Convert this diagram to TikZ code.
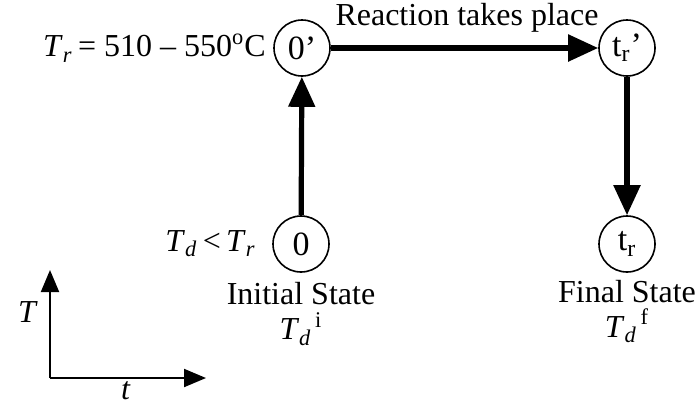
\documentclass[tikz,border=0pt]{standalone}
\usepackage{fontspec}
\setmainfont{Liberation Serif}
\usetikzlibrary{arrows.meta}
\tikzset{
  state/.style={circle,draw,line width=0.8pt,minimum size=28pt,inner sep=0pt,font=\fontsize{17}{19}\selectfont},
  lbl/.style={font=\fontsize{16}{18}\selectfont,inner sep=0pt},
  bigarrow/.style={line width=2.6pt,-{Triangle[length=15pt,width=13pt]}},
  axisarrow/.style={line width=1pt,-{Triangle[length=11pt,width=9pt]}}
}
\newcommand{\Tsub}[1]{\textit{T}\textsubscript{\textit{#1}}}
\begin{document}
\begin{tikzpicture}[x=0.5pt,y=-0.5pt]
\useasboundingbox (0,0) rectangle (700,403);
\node[state] (s0p) at (302,48) {0’};
\node[state] (trp) at (627,48) {t\textsubscript{r}’};
\node[state] (s0) at (301,244) {0};
\node[state] (tr) at (627,244) {t\textsubscript{r}};
\draw[bigarrow] (s0) -- (s0p);
\draw[bigarrow] (s0p) -- (trp);
\draw[bigarrow] (trp) -- (tr);
\node[lbl,anchor=east] (tr-lbl) at (266,48) {\Tsub{r}\,= 510 – 550\textsuperscript{o}C};
\node[lbl] (react) at (467,18) {Reaction takes place};
\node[lbl,anchor=east] (td-lbl) at (256,244) {\Tsub{d}\,<\,\Tsub{r}};
\node[lbl] (init) at (301,294) {Initial State};
\node[lbl] (tdi) at (301,329) {\Tsub{d}\textsuperscript{\,i}};
\node[lbl] (final) at (627,292) {Final State};
\node[lbl] (tdf) at (627,326) {\Tsub{d}\textsuperscript{\,f}};
\coordinate (origin) at (50,378);
\coordinate (ytip) at (50,270);
\coordinate (xtip) at (206,378);
\draw[axisarrow] (origin) -- (ytip);
\draw[axisarrow] (origin) -- (xtip);
\node[lbl] (Tax) at (28,312) {\textit{T}};
\node[lbl,anchor=north] (tax) at (126,381) {\textit{t}};
\end{tikzpicture}
\end{document}
